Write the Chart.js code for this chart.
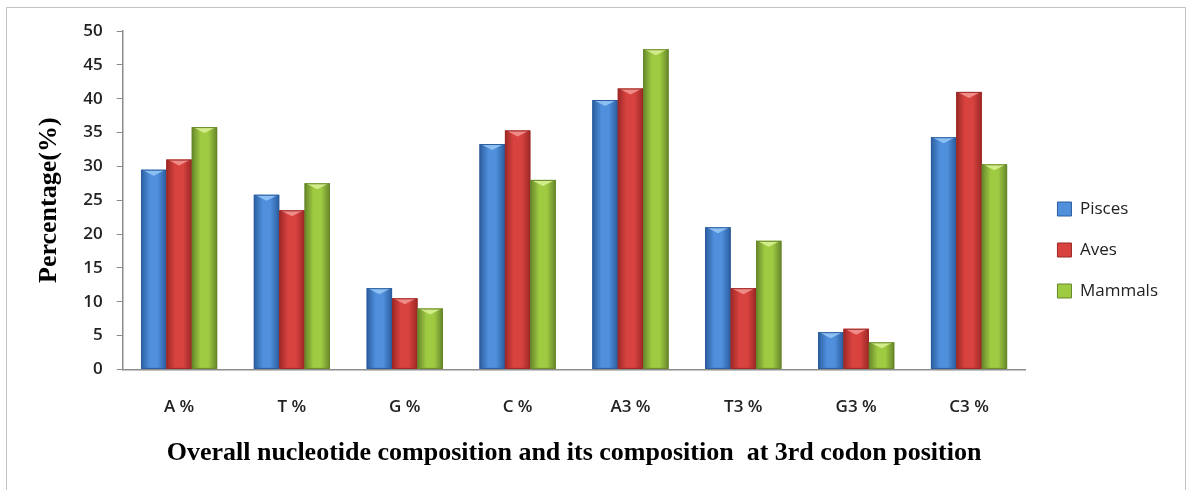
<!DOCTYPE html>
<html>
<head>
<meta charset="utf-8">
<script src="https://cdn.jsdelivr.net/npm/chart.js@4/dist/chart.umd.min.js"></script>
<style>
  body { margin: 0; background: #fff; }
  #frame { position: absolute; left: 6px; top: 7px; width: 1178px; height: 490px; border: 1px solid #c4c4c4; }
  #wrap { position: absolute; left: 0; top: 0; width: 1191px; height: 490px; }
</style>
</head>
<body>
<div id="frame"></div>
<div id="wrap"><canvas id="chart"></canvas></div>
<script>
// 카테고리와 계열 값
const categories = ["A %", "T %", "G %", "C %", "A3 %", "T3 %", "G3 %", "C3 %"];
const pisces  = [29.5, 25.8, 12.0, 33.3, 39.8, 21.0, 5.5, 34.3];
const aves    = [31.0, 23.5, 10.5, 35.3, 41.5, 12.0, 6.0, 41.0];
const mammals = [35.8, 27.5, 9.0, 28.0, 47.3, 19.0, 4.0, 30.3];
const yTicks  = [0, 5, 10, 15, 20, 25, 30, 35, 40, 45, 50];

// 계열별 색깔: [가장자리, 가운데, 윗면]
const shades = [
    ["#2b5d9e", "#4f8fdc", "#8cc0f2"],
    ["#9c2826", "#d9433f", "#f08c88"],
    ["#66862a", "#9fcb43", "#d3ec8a"],
];

const labelFont = {family: "Open Sans", size: 17, weight: "600"};

// 막대를 입체처럼 다시 칠하기 (라이브러리가 계산한 막대 위치 사용)
const bevelBars = {
    id: "bevelBars",
    afterDatasetsDraw(chart) {
        const ctx = chart.ctx;
        chart.data.datasets.forEach((ds, i) => {
            const [edge, mid, top] = shades[i];
            chart.getDatasetMeta(i).data.forEach(bar => {
                const {x, y, base, width} = bar.getProps(["x", "y", "base", "width"], true);
                const left = x - width / 2, right = x + width / 2;
                const g = ctx.createLinearGradient(left, 0, right, 0);
                g.addColorStop(0, edge);
                g.addColorStop(0.35, mid);
                g.addColorStop(0.65, mid);
                g.addColorStop(1, edge);
                ctx.save();
                ctx.fillStyle = g;
                ctx.fillRect(left, y, width, base - y);
                // 윗면의 밝은 삼각형
                ctx.fillStyle = top;
                ctx.beginPath();
                ctx.moveTo(left + 1, y);
                ctx.lineTo(right - 1, y);
                ctx.lineTo(x, y + 6);
                ctx.closePath();
                ctx.fill();
                ctx.strokeStyle = edge;
                ctx.lineWidth = 1;
                ctx.strokeRect(left + 0.5, y + 0.5, width - 1, base - y - 1);
                ctx.restore();
            });
        });
    },
};

// 범례를 조금 오른쪽으로
const legendShift = {
    id: "legendShift",
    afterLayout(chart) {
        chart.legend.left += 8;
        chart.legend.right += 8;
    },
};

function makeDataset(label, data, i) {
    return {
        label, data,
        backgroundColor: shades[i][1],
        borderColor: shades[i][0],
        borderWidth: 1,
        categoryPercentage: 0.675,
        barPercentage: 1.0,
    };
}

const canvas = document.querySelector("#chart");
new Chart(canvas, {
    type: "bar",
    data: {
        labels: categories,
        datasets: [
            makeDataset("Pisces", pisces, 0),
            makeDataset("Aves", aves, 1),
            makeDataset("Mammals", mammals, 2),
        ],
    },
    plugins: [bevelBars, legendShift],
    options: {
        responsive: true,
        maintainAspectRatio: false,
        animation: false,
        layout: {padding: {left: 34, right: 31, top: 31, bottom: 21}},
        plugins: {
            tooltip: {enabled: false},
            legend: {
                position: "right",
                labels: {
                    boxWidth: 14, boxHeight: 14, padding: 24,
                    color: "#222",
                    font: {family: "Open Sans", size: 17},
                },
            },
        },
        scales: {
            x: {
                grid: {display: false, drawTicks: false},
                border: {color: "#8c8c8c", width: 1.5},
                ticks: {color: "#222", padding: 28, font: labelFont},
                title: {
                    display: true,
                    text: "Overall nucleotide composition and its composition  at 3rd codon position",
                    color: "#000",
                    padding: {top: -8, bottom: 0},
                    font: {family: "Liberation Serif", size: 26, weight: "bold"},
                },
            },
            y: {
                min: 0, max: 50,
                afterBuildTicks: axis => { axis.ticks = yTicks.map(v => ({value: v})); },
                grid: {display: true, drawOnChartArea: false, drawTicks: true, tickLength: 6, color: "#8c8c8c"},
                border: {color: "#8c8c8c", width: 1.5},
                ticks: {color: "#222", padding: 14, font: labelFont},
                title: {
                    display: true,
                    text: "Percentage(%)",
                    color: "#000",
                    padding: {top: 0, bottom: 4},
                    font: {family: "Liberation Serif", size: 26, weight: "bold"},
                },
            },
        },
    },
});
</script>
</body>
</html>
